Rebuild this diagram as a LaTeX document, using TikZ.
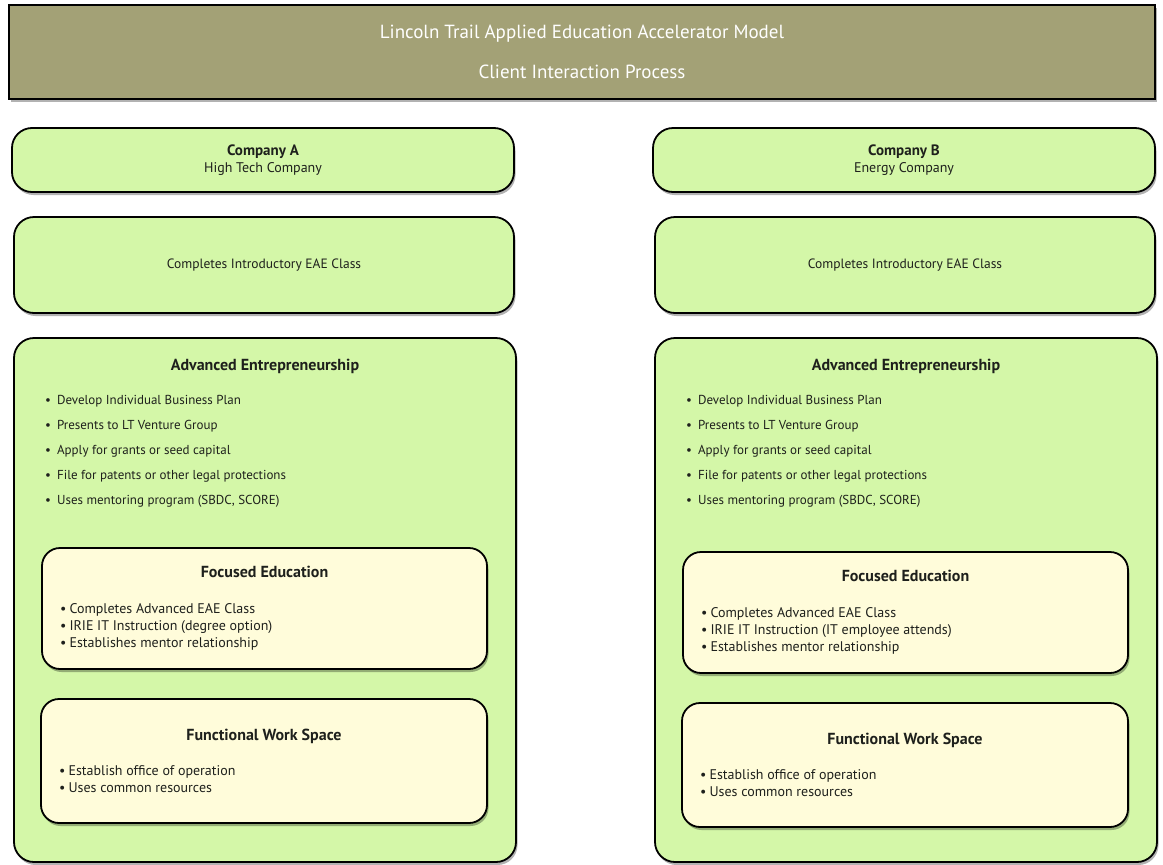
\documentclass[tikz,border=0pt]{standalone}
\usepackage{fontspec}
\setmainfont{PT Sans}
\usetikzlibrary{positioning}
\usetikzlibrary{shadows}

\definecolor{titleolive}{RGB}{163,161,118}
\definecolor{panelgreen}{RGB}{212,247,168}
\definecolor{panelcream}{RGB}{255,252,218}
\definecolor{inkdark}{RGB}{30,32,28}

\tikzset{
  panel/.style={draw=black, line width=1.8pt, rounded corners=20pt, fill=panelgreen,
    outer sep=0pt, inner sep=0pt, anchor=north west, text=inkdark, align=center,
    drop shadow={shadow xshift=1.5pt, shadow yshift=-3pt, opacity=0.3, fill=black}},
  subpanel/.style={panel, fill=panelcream, rounded corners=18pt},
  titlebar/.style={panel, rounded corners=0pt, fill=titleolive, text=white,
    font=\fontsize{19}{40}\selectfont},
  head/.style={font=\fontsize{16}{19}\selectfont\bfseries, text=inkdark, inner sep=0pt},
  biglist/.style={font=\fontsize{13}{25}\selectfont, text=inkdark, align=left, inner sep=0pt},
  smalllist/.style={font=\fontsize{14}{17.3}\selectfont, text=inkdark, align=left, inner sep=0pt}
}

\begin{document}
\begin{tikzpicture}[x=1pt, y=-1pt]
        % Page frame
        \useasboundingbox (0,0) rectangle (1163,865);

        % Title bar
        \node[titlebar, minimum width=1146pt, minimum height=94pt] (title) at (9,5)
          {Lincoln Trail Applied Education Accelerator Model\\Client Interaction Process};

        % One column per company: letter / left edge / lift of inner boxes / name / kind / IT option
        \foreach \col/\xl/\dy/\cname/\ckind/\irie in {A/14/4/Company A/High Tech Company/degree option,
                                                    B/655/0/Company B/Energy Company/IT employee attends} {
            % Company and intro class
            \node[panel, minimum width=502pt, minimum height=64pt,
                  font=\fontsize{14}{17}\selectfont] (comp\col) at (\xl-2, 128)
              {{\fontsize{15}{17}\selectfont\bfseries\cname}\\\ckind};
            \node[panel, minimum width=500pt, minimum height=96pt,
                  font=\fontsize{13.5}{16}\selectfont] (intro\col) at (\xl, 217)
              {Completes Introductory EAE Class};

            % Advanced entrepreneurship panel
            \node[panel, minimum width=502pt, minimum height=524pt] (adv\col) at (\xl, 338) {};
            \node[head, below=21pt of adv\col.north] (advhead\col) {Advanced Entrepreneurship};
            \node[biglist, below right=57pt and 31pt of adv\col.north west] (advlist\col)
              {\textbullet\hspace{6pt}Develop Individual Business Plan\\
               \textbullet\hspace{6pt}Presents to LT Venture Group\\
               \textbullet\hspace{6pt}Apply for grants or seed capital\\
               \textbullet\hspace{6pt}File for patents or other legal protections\\
               \textbullet\hspace{6pt}Uses mentoring program (SBDC, SCORE)};

            % Focused education
            \node[subpanel, minimum width=445pt, minimum height=121pt] (focus\col) at (\xl+28, 552-\dy) {};
            \node[head, below=18pt of focus\col.north] (focushead\col) {Focused Education};
            \node[smalllist, below right=55pt and 18pt of focus\col.north west] (focuslist\col)
              {\textbullet\hspace{3pt}Completes Advanced EAE Class\\
               \textbullet\hspace{3pt}IRIE IT Instruction (\irie)\\
               \textbullet\hspace{3pt}Establishes mentor relationship};

            % Functional work space
            \node[subpanel, minimum width=446pt, minimum height=124pt] (work\col) at (\xl+27, 703-\dy) {};
            \node[head, below=30pt of work\col.north] (workhead\col) {Functional Work Space};
            \node[smalllist, below right=66pt and 18pt of work\col.north west] (worklist\col)
              {\textbullet\hspace{3pt}Establish office of operation\\
               \textbullet\hspace{3pt}Uses common resources};
        }
    \end{tikzpicture}
\end{document}
